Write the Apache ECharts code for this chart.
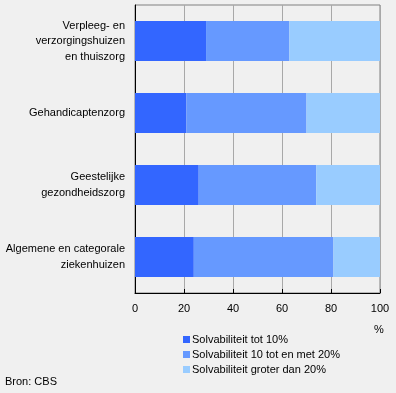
<!DOCTYPE html>
<html><head><meta charset="utf-8">
<script src="https://cdn.jsdelivr.net/npm/echarts@6/dist/echarts.min.js"></script>
<style>html,body{margin:0;padding:0;background:#f0f0f0;}#c{width:396px;height:393px;}</style>
</head><body><div id="c"></div>
<script>
var categories = ["Verpleeg- en\nverzorgingshuizen\nen thuiszorg", "Gehandicaptenzorg", "Geestelijke\ngezondheidszorg", "Algemene en categorale\nziekenhuizen"];
var seriesNames = ["Solvabiliteit tot 10%", "Solvabiliteit 10 tot en met 20%", "Solvabiliteit groter dan 20%"];
var tot10 = [29, 21, 26, 24];
var tot20 = [34, 49, 48, 57];
var boven20 = [37, 30, 26, 19];
var colors = ["#3366ff", "#6699ff", "#99ccff"];
var font = "Liberation Sans, Arial, sans-serif";
var chart = echarts.init(document.getElementById('c'), null, {renderer: 'canvas'});
var data = [tot10, tot20, boven20];
chart.setOption({
  backgroundColor: '#f0f0f0',
  animation: false,
  textStyle: {fontFamily: font},
  grid: {left: 135, right: 16, top: 5, bottom: 100, containLabel: false, outerBoundsMode: 'none', show: true, borderColor: '#808080', borderWidth: 1, backgroundColor: 'transparent'},
  xAxis: {
    type: 'value', min: 0, max: 100, interval: 20,
    axisLine: {show: true, lineStyle: {color: '#000', width: 1}},
    axisTick: {show: true, inside: true, length: 4, lineStyle: {color: '#000'}},
    axisLabel: {color: '#000', fontSize: 11, fontFamily: font, margin: 10},
    splitLine: {show: true, lineStyle: {color: '#a8a8a8', width: 1}}
  },
  yAxis: {
    type: 'category', data: categories, inverse: true,
    axisLine: {show: true, onZero: false, lineStyle: {color: '#000', width: 1}},
    axisTick: {show: false},
    axisLabel: {color: '#000', fontSize: 11, fontFamily: font, lineHeight: 15.5, margin: 10, align: 'right'},
    splitLine: {show: false}
  },
  legend: {
    orient: 'vertical', left: 178, top: 328,
    itemWidth: 7, itemHeight: 7, itemGap: 2,
    icon: 'rect',
    textStyle: {color: '#000', fontSize: 11, fontFamily: font, lineHeight: 13, padding: [0, 0, 0, -3]},
    data: seriesNames
  },
  graphic: [
    {type: 'text', left: 374, top: 324, style: {text: '%', fill: '#000', font: '11px ' + font}},
    {type: 'text', left: 5, top: 376, style: {text: 'Bron: CBS', fill: '#000', font: '11px ' + font}}
  ],
  series: seriesNames.map(function (n, i) {
    return {name: n, type: 'bar', stack: 'a', barWidth: 40, data: data[i], itemStyle: {color: colors[i]}};
  })
});
</script></body></html>
